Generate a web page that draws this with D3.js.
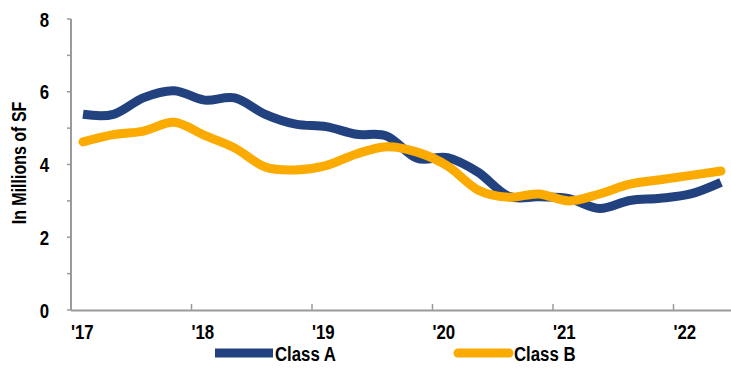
<!DOCTYPE html>
<html>
<head>
  <meta charset="utf-8">
  <title>Class A vs Class B</title>
  <style>
    body { margin: 0; background: #fff; }
    svg text {
      font-family: "Liberation Sans", Arial, sans-serif;
      font-weight: bold;
      fill: #000;
    }
  </style>
  <script src="https://d3js.org/d3.v7.min.js"></script>
</head>
<body>
  <svg id="chart" width="731" height="368"></svg>
  <script>
    var width = 731,
        height = 368;

    // quarters, 2017 Q1 .. 2022 Q2
    var quarters = ["17Q1","17Q2","17Q3","17Q4","18Q1","18Q2","18Q3","18Q4",
                    "19Q1","19Q2","19Q3","19Q4","20Q1","20Q2","20Q3","20Q4",
                    "21Q1","21Q2","21Q3","21Q4","22Q1","22Q2"];

    var classA = [5.38, 5.38, 5.84, 6.03, 5.77, 5.83, 5.38, 5.11, 5.04, 4.83, 4.78,
                  4.17, 4.19, 3.79, 3.13, 3.11, 3.06, 2.79, 3.01, 3.07, 3.19, 3.51];
    var classB = [4.62, 4.82, 4.92, 5.16, 4.80, 4.45, 3.93, 3.85, 3.97, 4.29, 4.49,
                  4.34, 3.96, 3.30, 3.10, 3.19, 3.00, 3.19, 3.46, 3.58, 3.70, 3.82];

    var years = [2017, 2018, 2019, 2020, 2021, 2022];
    var yearLabels = ["'17", "'18", "'19", "'20", "'21", "'22"];
    var yTicks = [0, 1, 2, 3, 4, 5, 6, 7, 8];

    var series = [
      { name: "Class A", values: classA, color: "#22427f", cap: "butt" },
      { name: "Class B", values: classB, color: "#fbaa00", cap: "round" }
    ];

    var narrow = 0.8; // squeeze text to look like Arial Narrow

    var svg = d3.select("#chart");

    var x = d3.scalePoint().domain(quarters).range([83, 721]);
    var xYear = d3.scaleLinear().domain([2017, 2022]).range([71, 673.5]);
    var y = d3.scaleLinear().domain([0, 8]).range([310, 19]);

    // y axis
    var yAxis = svg.append("g").attr("transform", "translate(71,0)");
    yAxis.append("line")
        .attr("x1", 0).attr("x2", 0)
        .attr("y1", y(8)).attr("y2", y(0))
        .attr("stroke", "#9a9a9a").attr("stroke-width", 2);
    yAxis.selectAll("line.tick")
        .data(yTicks)
        .join("line")
        .attr("class", "tick")
        .attr("x1", -4).attr("x2", 0)
        .attr("y1", d => y(d)).attr("y2", d => y(d))
        .attr("stroke", "#9a9a9a").attr("stroke-width", 1.5);
    yAxis.selectAll("text")
        .data(yTicks.filter(d => d % 2 === 0))
        .join("text")
        .attr("transform", d => "translate(-22," + y(d) + ") scale(" + narrow + ",1)")
        .attr("dy", "0.36em")
        .attr("text-anchor", "end")
        .style("font-size", "21px")
        .text(d => d);

    svg.append("text")
        .attr("transform", "translate(26,163) rotate(-90) scale(" + narrow + ",1)")
        .attr("text-anchor", "middle")
        .style("font-size", "20px")
        .text("In Millions of SF");

    // x axis
    var xAxis = svg.append("g");
    xAxis.append("line")
        .attr("x1", 71).attr("x2", 731)
        .attr("y1", 310.5).attr("y2", 310.5)
        .attr("stroke", "#9a9a9a").attr("stroke-width", 2);
    xAxis.selectAll("line.tick")
        .data(years)
        .join("line")
        .attr("class", "tick")
        .attr("x1", d => xYear(d)).attr("x2", d => xYear(d))
        .attr("y1", 304).attr("y2", 310)
        .attr("stroke", "#9a9a9a").attr("stroke-width", 1.5);
    xAxis.selectAll("text")
        .data(years)
        .join("text")
        .attr("transform", d => "translate(" + xYear(d) + ",339) scale(" + narrow + ",1)")
        .style("font-size", "21px")
        .text((d, i) => yearLabels[i]);

    // lines
    var line = d3.line()
        .x((d, i) => x(quarters[i]))
        .y(d => y(d))
        .curve(d3.curveCatmullRom.alpha(0));

    svg.selectAll("path.series")
        .data(series)
        .join("path")
        .attr("class", "series")
        .attr("fill", "none")
        .attr("stroke", d => d.color)
        .attr("stroke-width", 9)
        .attr("stroke-linecap", d => d.cap)
        .attr("stroke-linejoin", "round")
        .attr("d", d => line(d.values));

    // legend
    var legendX = [215, 458];
    var legend = svg.selectAll("g.legend")
        .data(series)
        .join("g")
        .attr("class", "legend")
        .attr("transform", (d, i) => "translate(" + legendX[i] + ",353)");
    legend.append("line")
        .attr("x1", 0).attr("x2", d => d.cap === "round" ? 51 : 58)
        .attr("y1", 0).attr("y2", 0)
        .attr("stroke", d => d.color)
        .attr("stroke-width", 9)
        .attr("stroke-linecap", d => d.cap);
    legend.append("text")
        .attr("transform", d => "translate(" + (d.cap === "round" ? 56 : 60) + ",0) scale(" + narrow + ",1)")
        .attr("dy", "0.36em")
        .style("font-size", "21px")
        .text(d => d.name);
  </script>
</body>
</html>
